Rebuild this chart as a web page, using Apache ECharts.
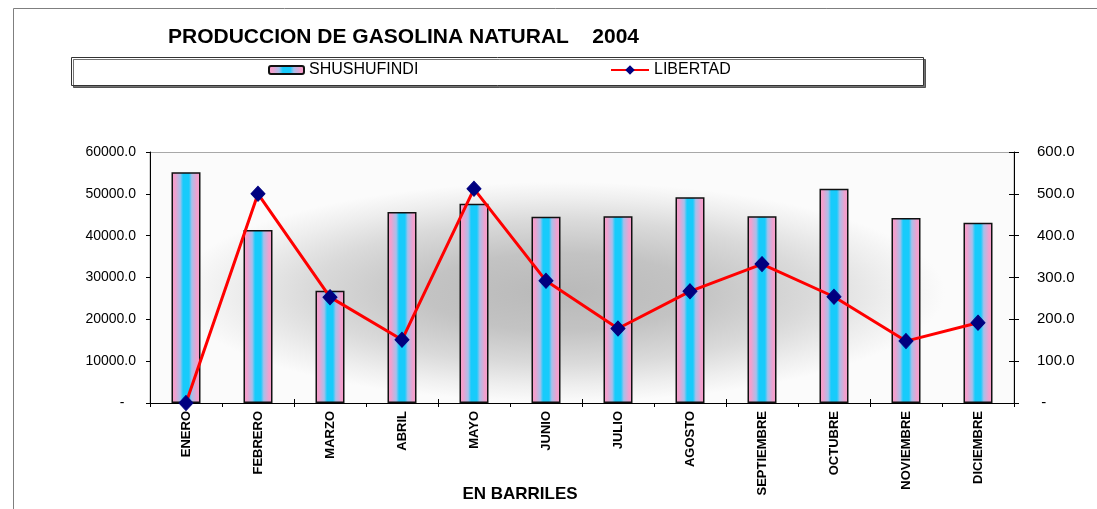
<!DOCTYPE html>
<html>
<head>
<meta charset="utf-8">
<script src="https://cdn.jsdelivr.net/npm/echarts@6/dist/echarts.min.js"></script>
<style>html,body{margin:0;padding:0;background:#fff;}#c{width:1097px;height:509px;}</style>
</head>
<body>
<div id="c"></div>
<script>
var months = ['ENERO','FEBRERO','MARZO','ABRIL','MAYO','JUNIO','JULIO','AGOSTO','SEPTIEMBRE','OCTUBRE','NOVIEMBRE','DICIEMBRE'];
var shushufindi = [55150, 41350, 26850, 45650, 47650, 44550, 44650, 49200, 44650, 51200, 44250, 43100];
var libertad = [0, 500, 253, 151, 512, 292, 178, 267, 332, 254, 148, 192];
var titleText = 'PRODUCCION DE GASOLINA NATURAL    2004';
var axisTitle = 'EN BARRILES';

var FONT = '"Liberation Sans", Arial, sans-serif';
var barGrad = {
  type: 'linear', x: 0, y: 0, x2: 1, y2: 0,
  colorStops: [
    {offset: 0, color: '#f59ecb'},
    {offset: 0.12, color: '#f2a0cd'},
    {offset: 0.3, color: '#a8bfea'},
    {offset: 0.4, color: '#18cbfb'},
    {offset: 0.6, color: '#18cbfb'},
    {offset: 0.7, color: '#a8bfea'},
    {offset: 0.88, color: '#f2a0cd'},
    {offset: 1, color: '#f59ecb'}
  ]
};

var chart = echarts.init(document.getElementById('c'), null, {renderer: 'canvas'});
chart.setOption({
  animation: false,
  backgroundColor: '#ffffff',
  title: {
    text: titleText, left: 168, top: 27, padding: 0,
    textStyle: {fontFamily: FONT, fontWeight: 'bold', fontSize: 21, color: '#000'}
  },
  legend: [
    {data: ['SHUSHUFINDI'], left: 268, top: 62, padding: 0, itemWidth: 35, itemHeight: 8, itemGap: 5,
     textStyle: {fontFamily: FONT, fontSize: 16, color: '#000'}},
    {data: ['LIBERTAD'], left: 610, top: 62, padding: 0, itemWidth: 38, itemHeight: 12, itemGap: 5,
     textStyle: {fontFamily: FONT, fontSize: 16, color: '#000'}}
  ],
  grid: {left: 150, right: 83, top: 152, bottom: 106, containLabel: false},
  xAxis: [
    {type: 'category', data: months, boundaryGap: true,
     axisLine: {lineStyle: {color: '#000', width: 1}},
     axisTick: {show: true, length: 4, lineStyle: {color: '#000'}},
     axisLabel: {rotate: 90, interval: 0, margin: 8, fontFamily: FONT, fontWeight: 'bold', fontSize: 13, color: '#000'}},
    {type: 'category', data: months, position: 'bottom', boundaryGap: true,
     axisLine: {show: false},
     axisTick: {show: true, inside: true, length: 4, lineStyle: {color: '#000'}},
     axisLabel: {show: false}}
  ],
  yAxis: [
    {type: 'value', min: 0, max: 60000, interval: 10000, position: 'left',
     axisLine: {show: true, lineStyle: {color: '#000'}},
     axisTick: {show: true, length: 4, lineStyle: {color: '#000'}},
     splitLine: {show: false},
     axisLabel: {margin: 14, fontFamily: FONT, fontSize: 14, color: '#000',
       formatter: function (v) { return v === 0 ? '-   ' : v.toFixed(1); }}},
    {type: 'value', min: 0, max: 600, interval: 100, position: 'right',
     axisLine: {show: true, lineStyle: {color: '#000'}},
     axisTick: {show: true, length: 5, lineStyle: {color: '#000'}},
     splitLine: {show: false},
     axisLabel: {margin: 23, fontFamily: FONT, fontSize: 15, color: '#000',
       formatter: function (v) { return v === 0 ? ' -' : v.toFixed(1); }}},
    {type: 'value', min: 0, max: 600, interval: 100, position: 'right',
     axisLine: {show: false},
     axisTick: {show: true, inside: true, length: 5, lineStyle: {color: '#000'}},
     splitLine: {show: false},
     axisLabel: {show: false}}
  ],
  series: [
    {name: 'SHUSHUFINDI', type: 'bar', data: shushufindi, yAxisIndex: 0, xAxisIndex: 0,
     barWidth: 29,
     itemStyle: {color: barGrad, borderColor: '#111', borderWidth: 1.5}},
    {name: 'LIBERTAD', type: 'line', data: libertad, yAxisIndex: 1, xAxisIndex: 0,
     clip: false, z: 5,
     symbol: 'diamond', symbolSize: [14, 15], showAllSymbol: true,
     lineStyle: {color: '#ff0000', width: 3},
     itemStyle: {color: '#000080', borderColor: '#000080'}}
  ],
  graphic: [
    {type: 'rect', z: -10, shape: {x: 13.5, y: 8.5, width: 1200, height: 600},
     style: {fill: '#fff', stroke: '#7f7f7f', lineWidth: 1}},
    {type: 'rect', z: -9, shape: {x: 71.5, y: 57.5, width: 852, height: 28},
     style: {fill: '#fff', stroke: '#333', lineWidth: 1, shadowColor: 'rgba(0,0,0,0.55)', shadowOffsetX: 2, shadowOffsetY: 2, shadowBlur: 0}},
    {type: 'rect', z: -9, shape: {x: 150, y: 152.5, width: 864, height: 251},
     style: {fill: '#fbfbfb', stroke: '#a8a8a8', lineWidth: 1}},
    {type: 'rect', z: -8, x: 560, y: 292, scaleY: 110 / 385,
     shape: {x: -385, y: -385, width: 770, height: 770},
     style: {fill: {type: 'radial', x: 0.5, y: 0.5, r: 0.5, colorStops: [
       {offset: 0, color: '#b9b9b9'},
       {offset: 0.35, color: '#c3c3c3'},
       {offset: 0.65, color: '#dadada'},
       {offset: 0.85, color: '#eeeeee'},
       {offset: 1, color: '#fbfbfb'}]}}},
    {type: 'text', z: 10, x: 520, y: 494,
     style: {text: axisTitle, font: 'bold 17px "Liberation Sans", Arial, sans-serif', fill: '#000', align: 'center', verticalAlign: 'middle'}}
  ]
});
</script>
</body>
</html>
